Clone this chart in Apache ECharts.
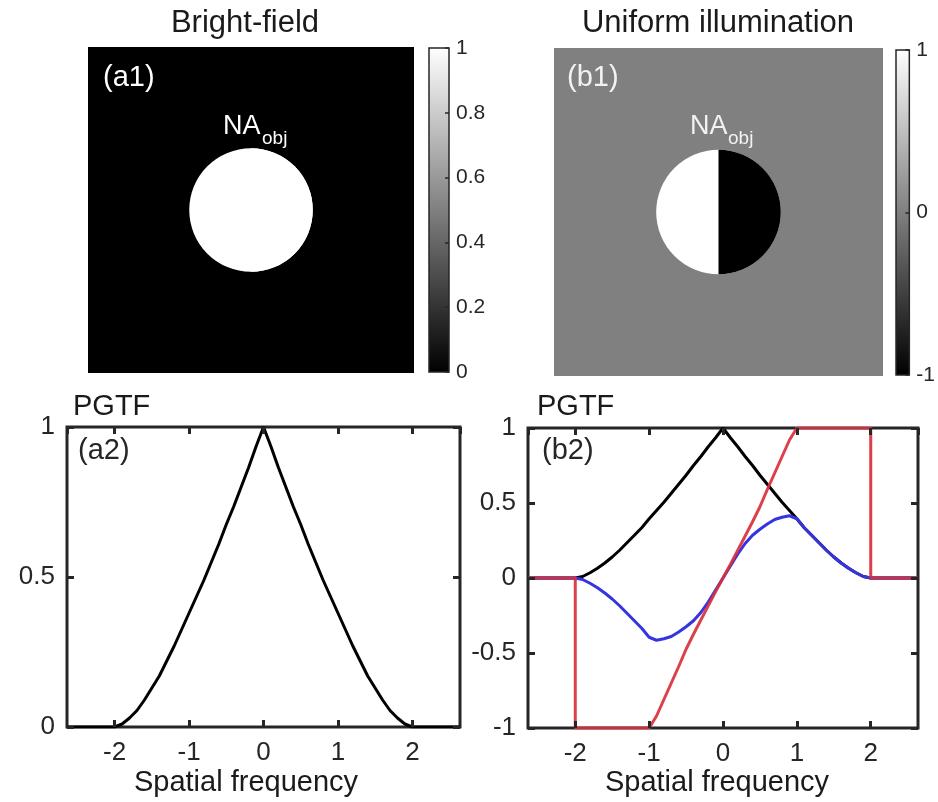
<!DOCTYPE html>
<html>
<head>
<meta charset="utf-8">
<title>PGTF</title>
<script src="https://cdn.jsdelivr.net/npm/echarts@6/dist/echarts.min.js"></script>
<style>
  html, body { margin: 0; padding: 0; background: #fff; }
  #chart { width: 938px; height: 802px; }
</style>
</head>
<body>
<div id="chart"></div>
<script>
  // spatial frequency, in units of NA_obj
  const freq = [-2.64, -2, -1.9, -1.8, -1.7, -1.6, -1.5, -1.4, -1.3, -1.2, -1.1, -1, -0.9, -0.8, -0.7, -0.6, -0.5, -0.4, -0.3, -0.2, -0.1,
    0, 0.1, 0.2, 0.3, 0.4, 0.5, 0.6, 0.7, 0.8, 0.9, 1, 1.1, 1.2, 1.3, 1.4, 1.5, 1.6, 1.7, 1.8, 1.9, 2, 2.64];
  // (a2) bright-field PGTF
  const brightPgtf = [0, 0, 0.01, 0.03, 0.055, 0.09, 0.13, 0.17, 0.22, 0.27, 0.325, 0.38, 0.435, 0.49, 0.55, 0.61, 0.675, 0.735, 0.80, 0.865, 0.935,
    1, 0.935, 0.865, 0.80, 0.735, 0.675, 0.61, 0.55, 0.49, 0.435, 0.38, 0.325, 0.27, 0.22, 0.17, 0.13, 0.09, 0.055, 0.03, 0.01, 0, 0];
  // (b2) uniform illumination: black / blue curves
  const uniformAbs = [0, 0, 0.01, 0.035, 0.065, 0.10, 0.14, 0.185, 0.235, 0.285, 0.335, 0.395, 0.45, 0.505, 0.565, 0.625, 0.685, 0.75, 0.81, 0.875, 0.935,
    1, 0.935, 0.875, 0.81, 0.75, 0.685, 0.625, 0.565, 0.505, 0.45, 0.395, 0.335, 0.285, 0.235, 0.185, 0.14, 0.10, 0.065, 0.035, 0.01, 0, 0];
  const uniformPgtf = [0, 0, -0.01, -0.035, -0.065, -0.10, -0.14, -0.185, -0.235, -0.285, -0.335, -0.395, -0.415, -0.405, -0.39, -0.36, -0.325, -0.285, -0.23, -0.16, -0.08,
    0, 0.08, 0.16, 0.23, 0.285, 0.325, 0.36, 0.39, 0.405, 0.415, 0.395, 0.335, 0.285, 0.235, 0.185, 0.14, 0.10, 0.065, 0.035, 0.01, 0, 0];
  // (b2) red curve (normalised)
  const redFreq = [-2.64, -2, -2, -1, -0.9, -0.8, -0.7, -0.6, -0.5, -0.4, -0.3, -0.2, -0.1, 0, 0.1, 0.2, 0.3, 0.4, 0.5, 0.6, 0.7, 0.8, 0.9, 1, 2, 2, 2.64];
  const redValues = [0, 0, -1, -1, -0.92, -0.81, -0.70, -0.59, -0.475, -0.375, -0.28, -0.185, -0.09, 0, 0.09, 0.185, 0.28, 0.375, 0.475, 0.59, 0.70, 0.81, 0.92, 1, 1, 0, 0];

  // pupils: [left half, right half], radius NA_obj = 1, background 0
  const pupilRadius = 1;
  const pupilBackground = 0;
  const brightPupil = [1, 1];
  const uniformPupil = [1, -1];
  const brightRange = [0, 1];
  const uniformRange = [-1, 1];
  const freqExtent = 2.64;

  const FONT = 'Arial, "Liberation Sans", sans-serif';
  const INK = '#262626';

  function gray(v, range) {
    const c = Math.round(255 * (v - range[0]) / (range[1] - range[0]));
    return 'rgb(' + c + ',' + c + ',' + c + ')';
  }
  function pairs(xs, ys) {
    return xs.map((x, i) => [x, ys[i]]);
  }

  function pupilSeries(idx, pupil, range) {
    return {
      type: 'custom',
      xAxisIndex: idx,
      yAxisIndex: idx,
      silent: true,
      data: [[0, 0, pupilRadius, pupil[0], pupil[1], pupilBackground]],
      renderItem(params, api) {
        const cs = params.coordSys;
        const c = api.coord([api.value(0), api.value(1)]);
        const r = api.size([api.value(2), 0])[0];
        return {
          type: 'group',
          children: [
            { type: 'rect', shape: { x: cs.x, y: cs.y, width: cs.width, height: cs.height }, style: { fill: gray(api.value(5), range) } },
            { type: 'circle', shape: { cx: c[0], cy: c[1], r: r }, style: { fill: gray(api.value(3), range) } },
            { type: 'sector', shape: { cx: c[0], cy: c[1], r0: 0, r: r, startAngle: -Math.PI / 2, endAngle: Math.PI / 2, clockwise: true },
              style: { fill: gray(api.value(4), range) } }
          ]
        };
      }
    };
  }

  function colorbarSeries(idx, range) {
    return {
      type: 'custom',
      xAxisIndex: idx,
      yAxisIndex: idx,
      silent: true,
      z: 1,
      encode: { x: 0, y: [1, 2] },
      data: [[0, range[0], range[1]]],
      renderItem(params, api) {
        const cs = params.coordSys;
        const top = api.coord([0, api.value(2)])[1];
        const bottom = api.coord([0, api.value(1)])[1];
        return {
          type: 'rect',
          shape: { x: cs.x, y: top, width: cs.width, height: bottom - top },
          style: {
            fill: new echarts.graphic.LinearGradient(0, 0, 0, 1, [
              { offset: 0, color: gray(range[1], range) },
              { offset: 1, color: gray(range[0], range) }
            ]),
            stroke: INK,
            lineWidth: 1.5
          }
        };
      }
    };
  }

  const hidden = (idx, min, max) => ({ type: 'value', gridIndex: idx, min: min, max: max, show: false });
  const noLine = { show: false, onZero: false };
  const tick = { inside: true, length: 7, lineStyle: { width: 3, color: INK } };
  const intLabel = v => (Math.abs(v - Math.round(v)) < 1e-6 ? String(Math.round(v)) : '');

  function plotXAxes(idx) {
    return [{
      type: 'value', gridIndex: idx, position: 'bottom', min: -freqExtent, max: freqExtent, splitNumber: 5, z: 10,
      axisLine: noLine, axisTick: tick, splitLine: { show: false },
      axisLabel: { showMinLabel: false, showMaxLabel: false, margin: 13, fontSize: 26, color: INK, fontFamily: FONT, formatter: intLabel }
    }, {
      type: 'value', gridIndex: idx, position: 'top', min: -freqExtent, max: freqExtent, splitNumber: 5, z: 10,
      axisLine: noLine, axisTick: tick, splitLine: { show: false }, axisLabel: { show: false }
    }];
  }
  function plotYAxes(idx, min, max) {
    return [{
      type: 'value', gridIndex: idx, position: 'left', min: min, max: max, interval: 0.5, z: 10,
      axisLine: noLine, axisTick: tick, splitLine: { show: false },
      axisLabel: { margin: 12, fontSize: 26, color: INK, fontFamily: FONT }
    }, {
      type: 'value', gridIndex: idx, position: 'right', min: min, max: max, interval: 0.5, z: 10,
      axisLine: noLine, axisTick: tick, splitLine: { show: false }, axisLabel: { show: false }
    }];
  }
  function colorbarYAxis(idx, range, step) {
    return {
      type: 'value', gridIndex: idx, position: 'right', min: range[0], max: range[1], interval: step, z: 10,
      axisLine: noLine, splitLine: { show: false },
      axisTick: { inside: true, length: 4, lineStyle: { width: 1.5, color: INK } },
      axisLabel: { margin: 7, fontSize: 21, color: INK, fontFamily: FONT }
    };
  }

  function text(str, x, y, size, color, align) {
    return {
      type: 'text', x: x, y: y, z: 100, silent: true,
      style: { text: str, font: size + 'px ' + FONT, fill: color,
        textAlign: align || 'left', align: align || 'left', textVerticalAlign: 'middle', verticalAlign: 'middle' }
    };
  }

  const plotGrid = { show: true, borderWidth: 3, borderColor: INK, backgroundColor: '#fff', containLabel: false };

  const chart = echarts.init(document.getElementById('chart'), null, { renderer: 'canvas' });
  chart.setOption({
    animation: false,
    backgroundColor: '#fff',
    grid: [
      { left: 88, top: 47, width: 326, height: 326 },
      { left: 429, top: 48, width: 20, height: 324 },
      { left: 554, top: 48, width: 329, height: 328 },
      { left: 896, top: 50, width: 20, height: 325 },
      Object.assign({ left: 67, top: 427, width: 393, height: 300 }, plotGrid),
      Object.assign({ left: 528, top: 428, width: 390, height: 300 }, plotGrid)
    ],
    xAxis: [
      hidden(0, -freqExtent, freqExtent),
      hidden(1, -1, 1),
      hidden(2, -freqExtent, freqExtent),
      hidden(3, -1, 1)
    ].concat(plotXAxes(4), plotXAxes(5)),
    yAxis: [
      hidden(0, -freqExtent, freqExtent),
      colorbarYAxis(1, brightRange, 0.2),
      hidden(2, -freqExtent, freqExtent),
      colorbarYAxis(3, uniformRange, 1)
    ].concat(plotYAxes(4, 0, 1), plotYAxes(5, -1, 1)),
    series: [
      pupilSeries(0, brightPupil, brightRange),
      colorbarSeries(1, brightRange),
      pupilSeries(2, uniformPupil, uniformRange),
      colorbarSeries(3, uniformRange),
      {
        name: 'bright-field', type: 'line', xAxisIndex: 4, yAxisIndex: 4, showSymbol: false, symbol: 'none',
        lineStyle: { color: '#000', width: 3 }, data: pairs(freq, brightPgtf)
      },
      {
        name: 'abs', type: 'line', xAxisIndex: 6, yAxisIndex: 6, showSymbol: false, symbol: 'none',
        lineStyle: { color: '#000', width: 3 }, data: pairs(freq, uniformAbs)
      },
      {
        name: 'pgtf', type: 'line', xAxisIndex: 6, yAxisIndex: 6, showSymbol: false, symbol: 'none',
        lineStyle: { color: '#3434e0', width: 3 }, data: pairs(freq, uniformPgtf)
      },
      {
        name: 'normalised', type: 'line', xAxisIndex: 6, yAxisIndex: 6, showSymbol: false, symbol: 'none',
        lineStyle: { color: '#d8303c', width: 3, opacity: 0.92 }, data: pairs(redFreq, redValues)
      }
    ],
    graphic: [
      text('Bright-field', 245, 23, 31, '#1a1a1a', 'center'),
      text('Uniform illumination', 718, 23, 31, '#1a1a1a', 'center'),
      text('(a1)', 103, 78, 29, '#fff'),
      text('(b1)', 567, 78, 29, '#f2f2f2'),
      text('NA', 223, 127, 27, '#fff'),
      text('obj', 262, 139, 19, '#fff'),
      text('NA', 690, 127, 27, '#f2f2f2'),
      text('obj', 728, 139, 19, '#f2f2f2'),
      text('PGTF', 73, 407, 29, '#1a1a1a'),
      text('PGTF', 537, 407, 29, '#1a1a1a'),
      text('(a2)', 78, 451, 29, INK),
      text('(b2)', 542, 451, 29, INK),
      text('Spatial frequency', 246, 783, 29, '#1a1a1a', 'center'),
      text('Spatial frequency', 717, 783, 29, '#1a1a1a', 'center')
    ]
  });
</script>
</body>
</html>
